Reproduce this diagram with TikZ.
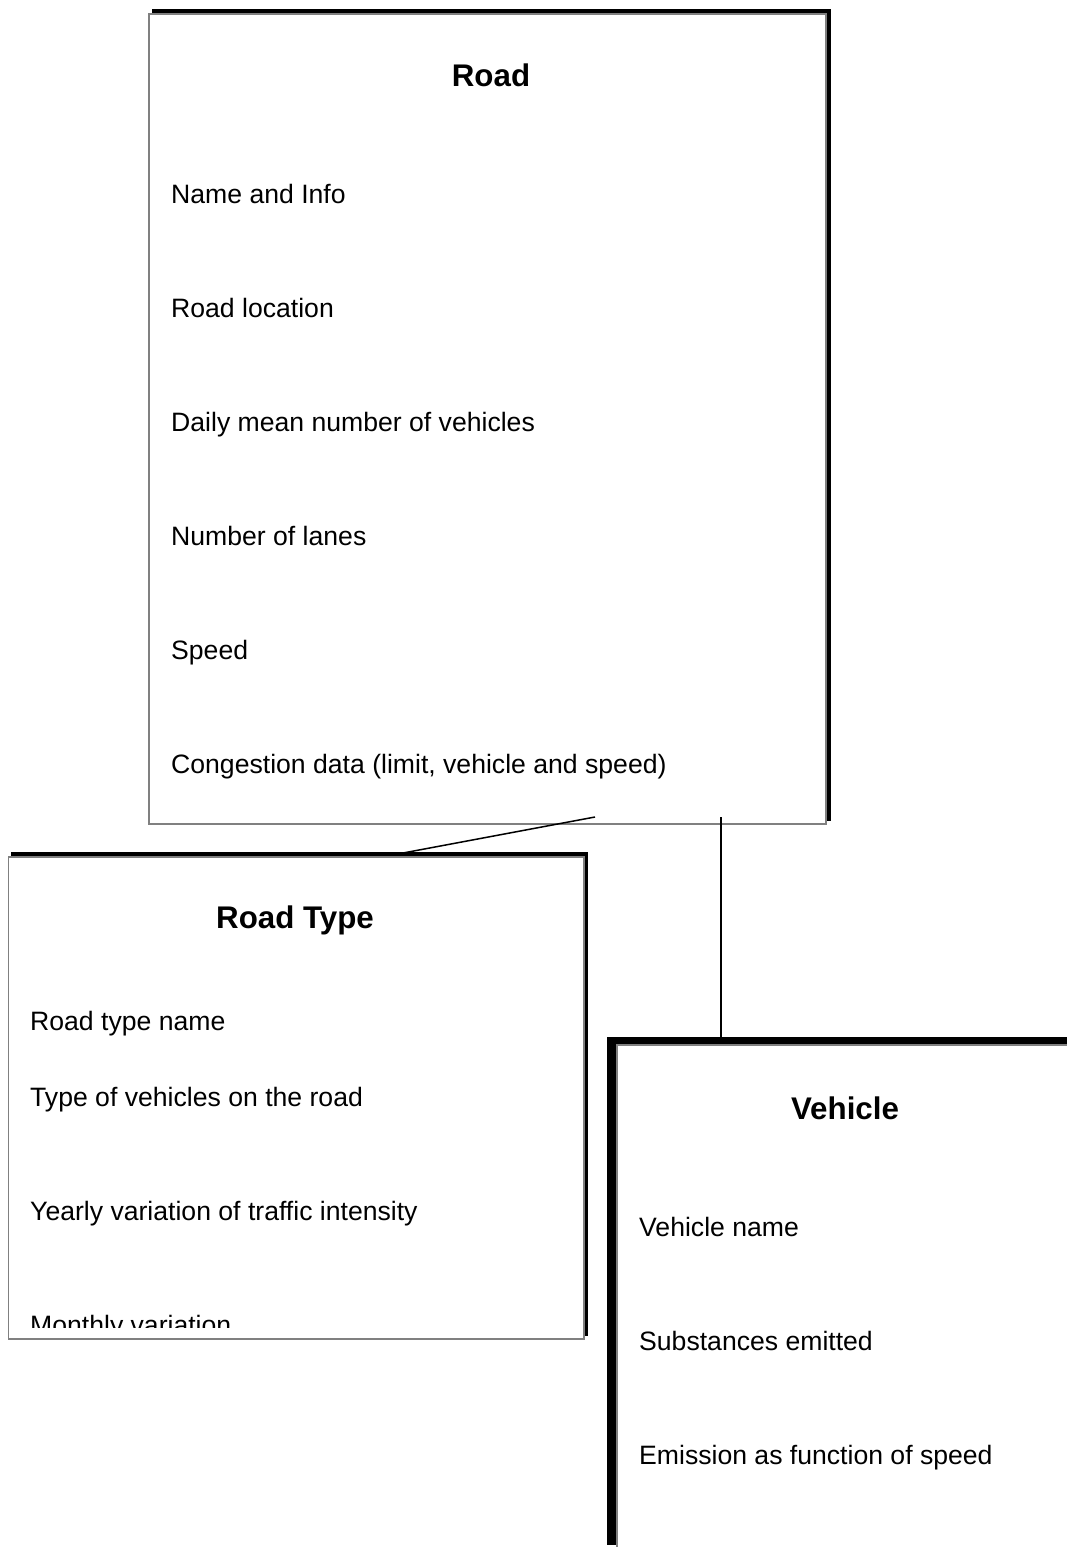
\documentclass[tikz,border=0pt]{standalone}
\usepackage{fontspec}
\setmainfont{Liberation Sans}
\usetikzlibrary{backgrounds}
\begin{document}
\begin{tikzpicture}[x=1pt,y=-1pt,
  box/.style={draw=black!50, line width=1.5pt, fill=white, inner sep=0pt, anchor=north west},
  item/.style={anchor=base west, inner sep=0pt, font=\fontsize{26.6}{30}\selectfont},
  title/.style={anchor=base, inner sep=0pt, font=\fontsize{31.3}{36}\selectfont\bfseries},
  link/.style={line width=1.5pt, black}]
\useasboundingbox (0,0) rectangle (1066,1547);
% boxes
\node[box, minimum width=677pt, minimum height=810pt] (road) at (148,13) {};
\node[box, minimum width=575.5pt, minimum height=482pt] (roadtype) at (7.5,856) {};
\node[box, minimum width=600pt, minimum height=506pt] (vehicle) at (616,1044) {};
% shadows
\begin{scope}[on background layer]
\fill[black] ([shift={(4pt,4pt)}]road.south west) rectangle ([shift={(4pt,4pt)}]road.north east);
\fill[black] ([shift={(3.5pt,4pt)}]roadtype.south west) rectangle ([shift={(3.5pt,4pt)}]roadtype.north east);
\fill[black] ([shift={(-9pt,7pt)}]vehicle.south west) rectangle ([shift={(-9pt,7pt)}]vehicle.north east);
\end{scope}
% Road texts
\node[title] (roadT) at (491,86) {Road};
\node[item] (r1) at (171,203) {Name and Info};
\node[item] (r2) at (171,317) {Road location};
\node[item] (r3) at (171,431) {Daily mean number of vehicles};
\node[item] (r4) at (171,545) {Number of lanes};
\node[item] (r5) at (171,659) {Speed};
\node[item] (r6) at (171,773) {Congestion data (limit, vehicle and speed)};
% Road Type texts
\node[title] (rtT) at (295,928) {Road Type};
\node[item] (t1) at (30,1030) {Road type name};
\node[item] (t2) at (30,1106) {Type of vehicles on the road};
\node[item] (t3) at (30,1220) {Yearly variation of traffic intensity};
\begin{scope}
\clip (8,860) rectangle (582,1327);
\node[item] (t4) at (30,1334) {Monthly variation};
\end{scope}
% Vehicle texts
\node[title] (vT) at (845,1119) {Vehicle};
\node[item] (v1) at (639,1236) {Vehicle name};
\node[item] (v2) at (639,1350) {Substances emitted};
\node[item] (v3) at (639,1464) {Emission as function of speed};
% connectors
\coordinate (a1) at (595,817);
\coordinate (a2) at (403,853);
\coordinate (b1) at (721,817);
\coordinate (b2) at (721,1037);
\draw[link] (a1) -- (a2);
\draw[link] (b1) -- (b2);
\end{tikzpicture}
\end{document}
